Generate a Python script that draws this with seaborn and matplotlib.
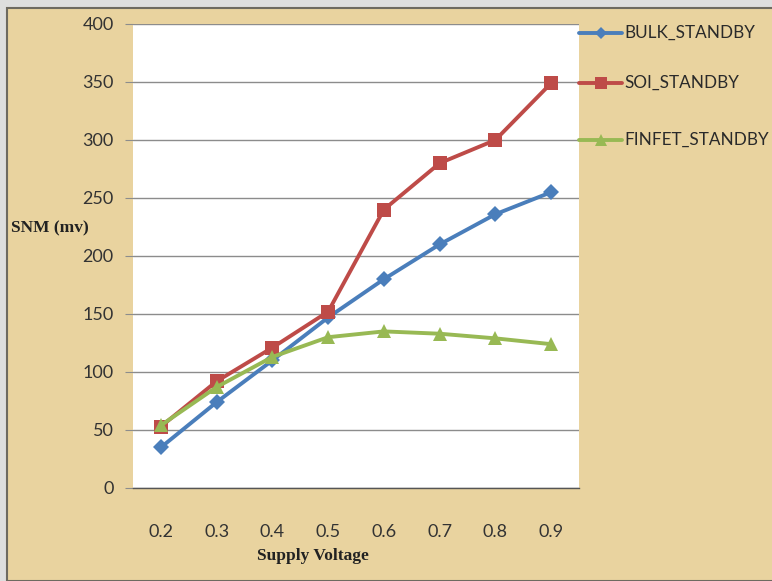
import pandas as pd
import matplotlib.pyplot as plt
import seaborn as sns
from matplotlib.patches import Rectangle

# Data
voltage = ['0.2', '0.3', '0.4', '0.5', '0.6', '0.7', '0.8', '0.9']
bulk_standby = [35, 74, 110, 147, 180, 210, 236, 255]
soi_standby = [53, 92, 121, 152, 240, 280, 300, 349]
finfet_standby = [54, 87, 113, 130, 135, 133, 129, 124]
series_names = ['BULK_STANDBY', 'SOI_STANDBY', 'FINFET_STANDBY']

df = pd.DataFrame({
    'pos': list(range(len(voltage))) * 3,
    'SNM': bulk_standby + soi_standby + finfet_standby,
    'series': [s for s in series_names for _ in voltage],
})

colors = {'BULK_STANDBY': '#4a7ebb', 'SOI_STANDBY': '#be4b48', 'FINFET_STANDBY': '#98b954'}
markers = {'BULK_STANDBY': 'D', 'SOI_STANDBY': 's', 'FINFET_STANDBY': '^'}
msizes = {'BULK_STANDBY': 8.5, 'SOI_STANDBY': 10, 'FINFET_STANDBY': 10}

sns.set_style('white')
plt.rcParams['font.family'] = ['Lato', 'DejaVu Sans']

W, H = 772, 581
fig = plt.figure(figsize=(W / 100, H / 100), dpi=100, facecolor='#dedede')

# parchment-coloured chart area with dark frame (behind the axes)
fig.patches.append(Rectangle((7 / W, 0), 1, 1 - 8 / H, transform=fig.transFigure,
                             facecolor='#e9d39f', edgecolor='#6e6a60', linewidth=1.5, zorder=-10))

ax = fig.add_axes([133 / W, (H - 488) / H, 446 / W, 464 / H])
ax.set_facecolor('white')

sns.lineplot(data=df, x='pos', y='SNM', hue='series', style='series',
             palette=colors, markers=markers, dashes=False, linewidth=2.8,
             markersize=9, markeredgewidth=0, ax=ax, legend=False)
for line, name in zip(ax.get_lines(), series_names):
    line.set_markersize(msizes[name])

ax.set_xlim(-0.5, len(voltage) - 0.5)
ax.set_ylim(0, 400)
ax.set_yticks(range(0, 401, 50))
ax.set_xticks(range(len(voltage)))
ax.set_xticklabels(voltage)
ax.yaxis.grid(True, color='#8c8c8c', linewidth=1)
ax.set_axisbelow(True)
for side in ['top', 'right', 'left']:
    ax.spines[side].set_visible(False)
ax.spines['bottom'].set_color('#555555')
ax.spines['bottom'].set_linewidth(1)
ax.tick_params(axis='y', length=6, color='#8c8c8c', pad=8, labelsize=13, labelcolor='#333333', left=True)
ax.tick_params(axis='x', length=0, pad=26, labelsize=13, labelcolor='#333333')
ax.set_xlabel('')
ax.set_ylabel('')

fig.text(50 / W, 1 - 228 / H, 'SNM (mv)', family='Liberation Serif', weight='bold',
         fontsize=12.5, ha='center', va='center', color='#222222')
fig.text(313 / W, 1 - 556 / H, 'Supply Voltage', family='Liberation Serif', weight='bold',
         fontsize=12.5, ha='center', va='center', color='#222222')

# legend drawn by hand to the right of the plot
leg_y = [33, 83, 140]
for name, y in zip(series_names, leg_y):
    yf = 1 - y / H
    fig.add_artist(plt.Line2D([579 / W, 622 / W], [yf, yf], transform=fig.transFigure,
                              color=colors[name], linewidth=2.8))
    fig.add_artist(plt.Line2D([601 / W], [yf], transform=fig.transFigure,
                              color=colors[name], marker=markers[name], linestyle='none',
                              markersize=msizes[name] - 2, markeredgewidth=0))
    fig.text(624 / W, yf, name, fontsize=12.3, ha='left', va='center', color='#2a2a2a')

fig.savefig('out.png', dpi=100, facecolor=fig.get_facecolor())
